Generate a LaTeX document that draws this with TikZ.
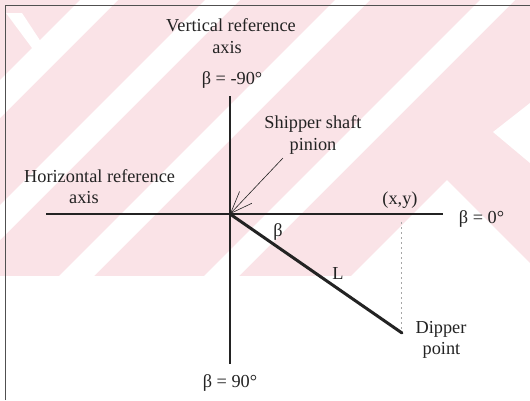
\documentclass[tikz,border=0pt]{standalone}
\usepackage{fontspec}
\setmainfont{Liberation Serif}
\usetikzlibrary{arrows.meta}
\definecolor{wmpink}{RGB}{250,227,231}
\definecolor{ink}{RGB}{35,35,35}
\definecolor{framec}{RGB}{80,80,80}
\begin{document}
\begin{tikzpicture}[x=1pt,y=-1pt,
  lbl/.style={font=\fontsize{18.3}{20}\selectfont, text=ink, inner sep=0pt, anchor=base},
  axisline/.style={draw=ink, line width=1.4pt},
  boom/.style={draw=ink, line width=3pt},
  guide/.style={draw=black!35, line width=0.8pt, dash pattern=on 2pt off 3pt},
  pointer/.style={draw=ink, line width=0.6pt, -{Straight Barb[length=22pt,width=17pt,line width=0.6pt]}},
  frameline/.style={draw=framec, line width=1pt}]
\useasboundingbox (0,0) rectangle (530,400);
\fill[white] (0,0) rectangle (530,400);
% watermark
\begin{scope}
  \clip (0,0) rectangle (530,276);
  \fill[wmpink] (0,0) rectangle (530,276);
  \foreach \a/\b in {80/118,205/240,335/370,480/515}
    \fill[white] (\a,0) -- (\b,0) -- (\b-400,400) -- (\a-400,400) -- cycle;
  \fill[white] (447,180) -- (530,263) -- (530,276) -- (351,276) -- cycle;
  \fill[white] (493,132) -- (530,103) -- (530,163) -- cycle;
  \fill[white] (6,13) -- (22,13) -- (45,48) -- (38,56) -- cycle;
\end{scope}
% frame
\draw[frameline] (5,400) -- (5,5) -- (530,5);
% geometry
\coordinate (O) at (230,214);
\coordinate (vtop) at (230,96);
\coordinate (vbot) at (230,364);
\coordinate (hleft) at (46,214);
\coordinate (hright) at (443,214);
\coordinate (D) at (402,333);
\coordinate (xy) at (401,222);
\coordinate (xyb) at (401,332);
\coordinate (tail) at (283,158);
\draw[axisline] (vtop) -- (vbot);
\draw[axisline] (hleft) -- (hright);
\draw[guide] (xy) -- (xyb);
\draw[boom, line cap=round] (O) -- (D);
\draw[pointer] (tail) -- (O);
% labels
\node[lbl] (vr1) at (231,31) {Vertical reference};
\node[lbl] (vr2) at (227,53) {axis};
\node[lbl] (bm90) at (232,84.5) {β = -90°};
\node[lbl] (sp1) at (313,128.5) {Shipper shaft};
\node[lbl] (sp2) at (313,150) {pinion};
\node[lbl, anchor=base west] (hr1) at (24,182) {Horizontal reference};
\node[lbl, anchor=base west] (hr2) at (69,203.5) {axis};
\node[lbl] (xylbl) at (400,204.5) {(x,y)};
\node[lbl] (b0) at (481.5,223) {β = 0°};
\node[lbl] (beta) at (278,236.7) {β};
\node[lbl] (Llbl) at (338,279) {L};
\node[lbl] (dp1) at (441,333) {Dipper};
\node[lbl] (dp2) at (441.5,354) {point};
\node[lbl] (b90) at (230,387) {β = 90°};
\end{tikzpicture}
\end{document}
